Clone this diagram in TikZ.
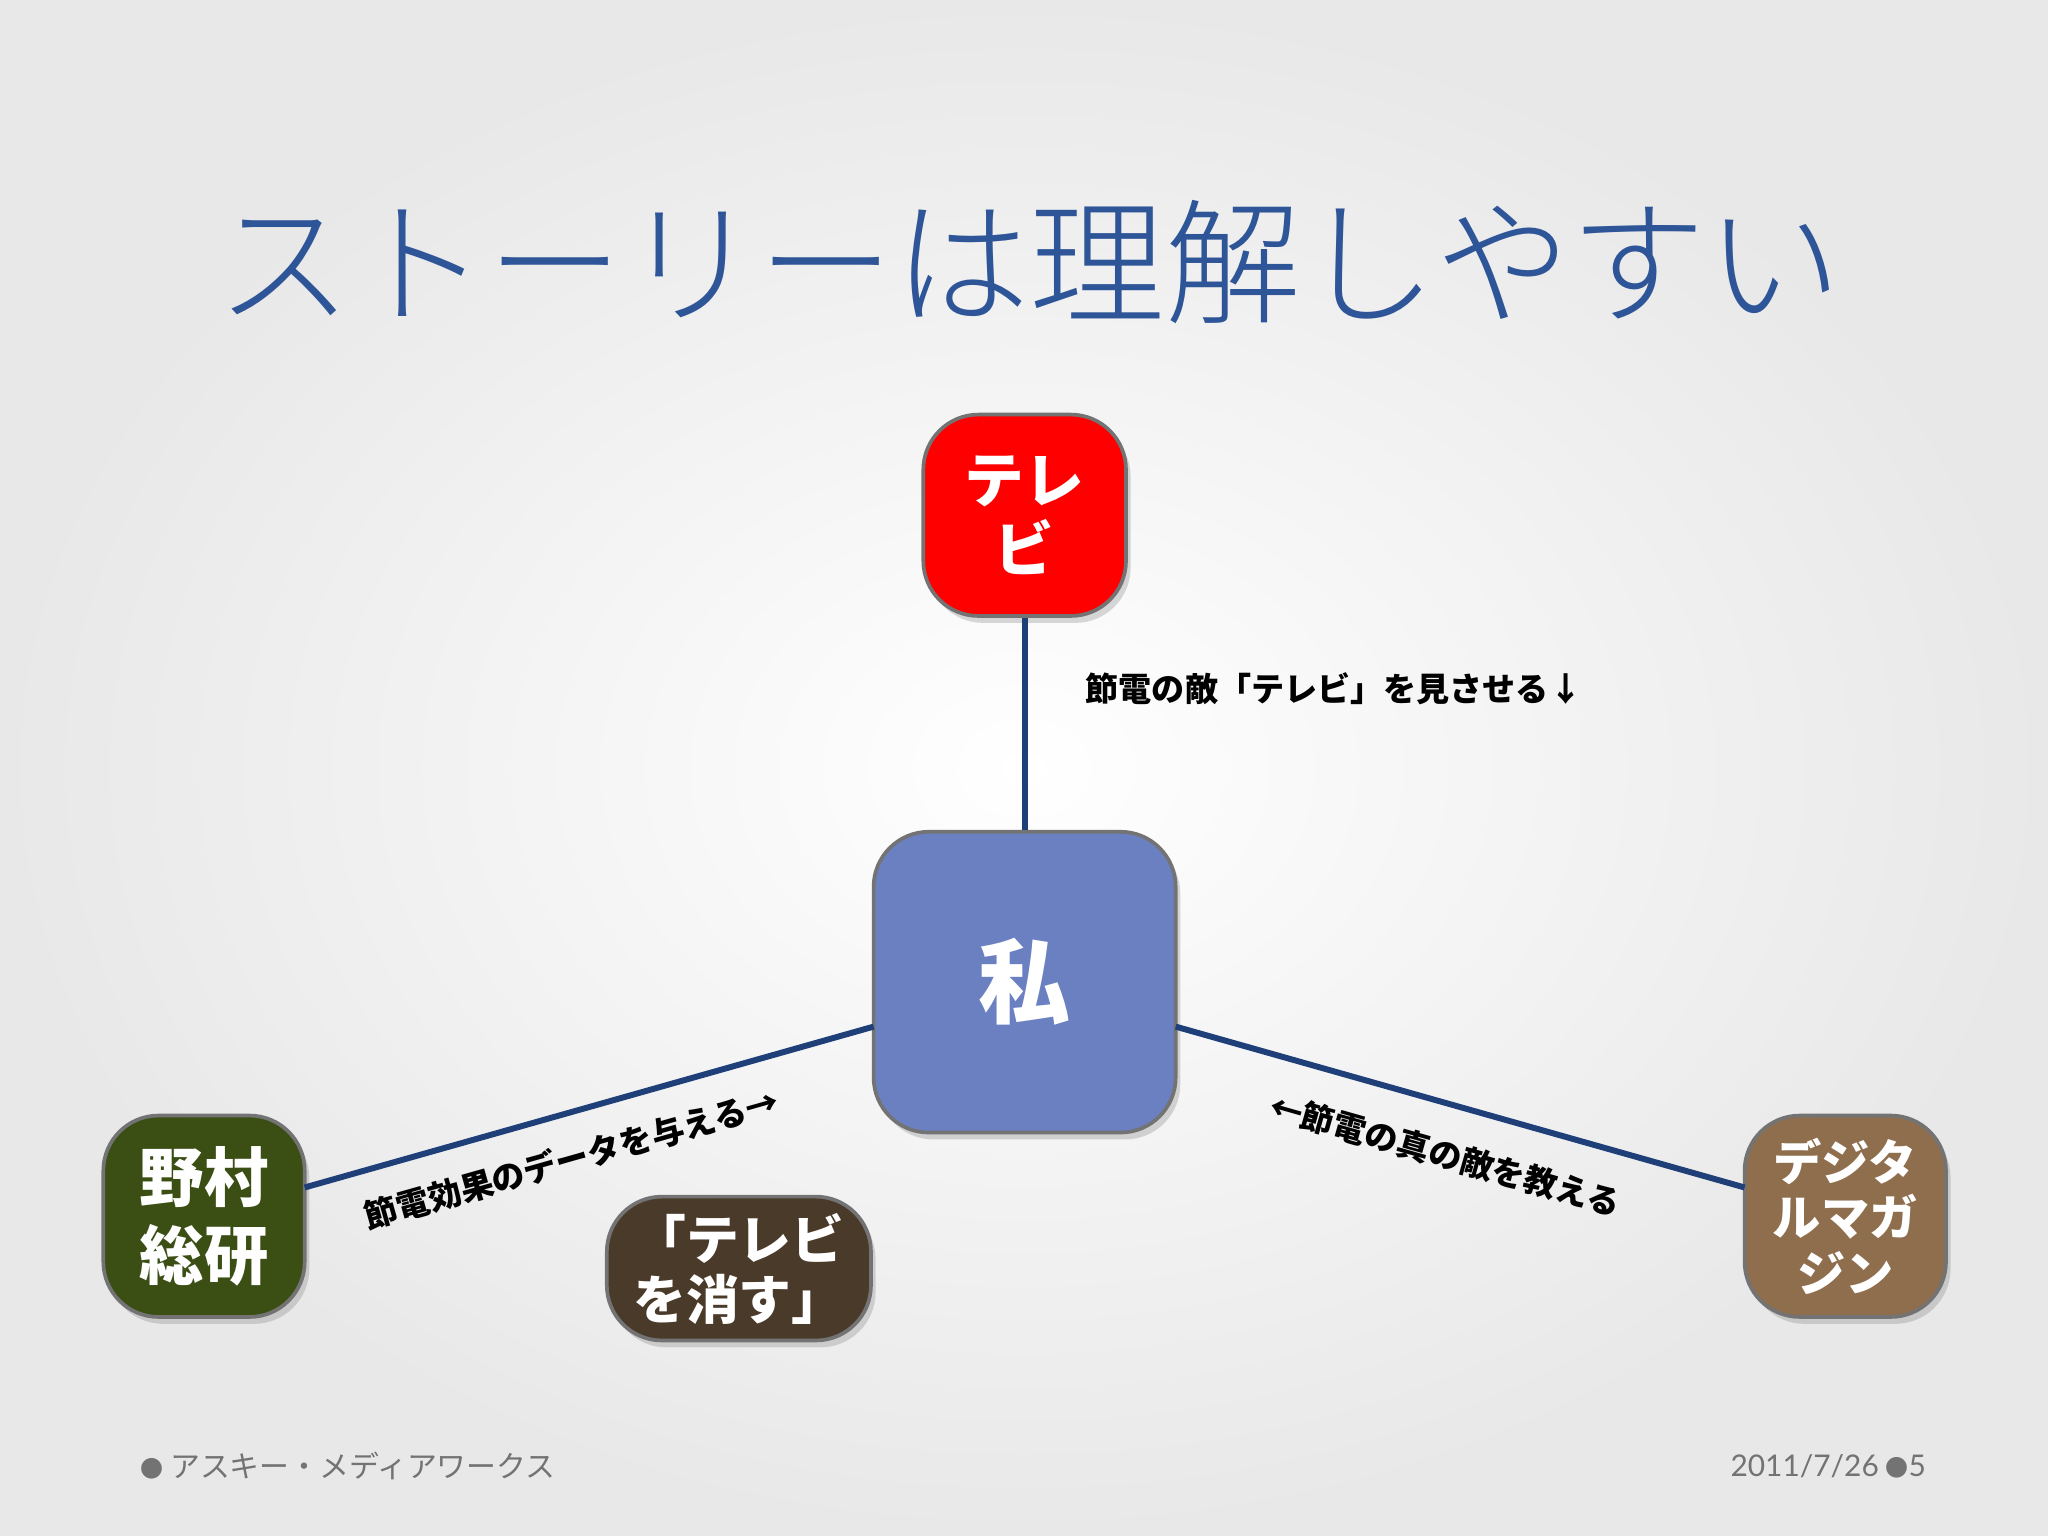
\documentclass[tikz,border=0pt]{standalone}
\usepackage{fontspec}
\newfontfamily\jp{Noto Sans CJK JP}
\newfontfamily\jpl{Noto Sans CJK JP Light}
\newfontfamily\lat{Lato}
\usetikzlibrary{shadows}
\definecolor{titleblue}{HTML}{2E5597}
\definecolor{linkblue}{HTML}{1F3F78}
\tikzset{
 box/.style={rounded corners=12pt, draw=black!55, line width=0.8pt, text=white, font=\jp\bfseries\fontsize{13}{15}\selectfont, align=center, inner sep=0pt, drop shadow={opacity=0.3, shadow xshift=1pt, shadow yshift=-1.5pt}},
 link/.style={draw=linkblue, line width=1.3pt},
 lbl/.style={font=\jp\bfseries\fontsize{7.2}{8}\selectfont, text=black},
 foot/.style={font=\jp\fontsize{6.5}{8}\selectfont, text=black!55}
}
\begin{document}
\begin{tikzpicture}[x=1cm,y=1cm]
\shade[inner color=white, outer color=black!9] (0,0) rectangle (15.66,-11.745);
\useasboundingbox (0,0) rectangle (15.66,-11.745);
\node[font=\jpl\fontsize{29.5}{32}\selectfont, text=titleblue] (title) at (7.87,-2.0) {ストーリーは理解しやすい};
\node[box, fill=red, minimum width=1.55cm, minimum height=1.54cm] (tv) at (7.835,-3.94) {テレ\\ビ};
\node[box, fill={rgb,255:red,106;green,128;blue,192}, minimum width=2.31cm, minimum height=2.30cm, font=\jp\bfseries\fontsize{20}{24}\selectfont] (me) at (7.835,-7.51) {私};
\node[box, fill={rgb,255:red,59;green,79;blue,21}, minimum width=1.54cm, minimum height=1.54cm, font=\jp\bfseries\fontsize{14}{17}\selectfont] (nomura) at (1.56,-9.30) {野村\\総研};
\node[box, fill={rgb,255:red,74;green,58;blue,42}, minimum width=2.02cm, minimum height=1.10cm, font=\jp\bfseries\fontsize{11.5}{13}\selectfont] (kesu) at (5.65,-9.70) {「テレビ\\を消す」};
\node[box, fill={rgb,255:red,143;green,110;blue,78}, minimum width=1.54cm, minimum height=1.54cm, font=\jp\bfseries\fontsize{10.5}{12}\selectfont] (dm) at (14.11,-9.30) {デジタ\\ルマガ\\ジン};
\coordinate (meL) at (6.68,-7.85);
\coordinate (meR) at (8.99,-7.85);
\coordinate (noR) at (2.33,-9.08);
\coordinate (dmL) at (13.34,-9.08);
\draw[link] (tv.south) -- (me.north);
\draw[link] (meL) -- (noR);
\draw[link] (meR) -- (dmL);
\node[lbl] (l1) at (10.20,-5.27) {節電の敵「テレビ」を見させる↓};
\node[lbl, rotate=15.8] (l2) at (4.37,-8.86) {節電効果のデータを与える→};
\node[lbl, rotate=-15.8] (l3) at (11.05,-8.83) {←節電の真の敵を教える};
\node[foot, anchor=west] (f1) at (0.95,-11.21) {{\fontsize{5}{6}\selectfont●} アスキー・メディアワークス};
\node[foot, anchor=east] (f2) at (14.85,-11.21) {{\lat 2011/7/26} {\fontsize{5}{6}\selectfont●}{\lat 5}};
\end{tikzpicture}
\end{document}
